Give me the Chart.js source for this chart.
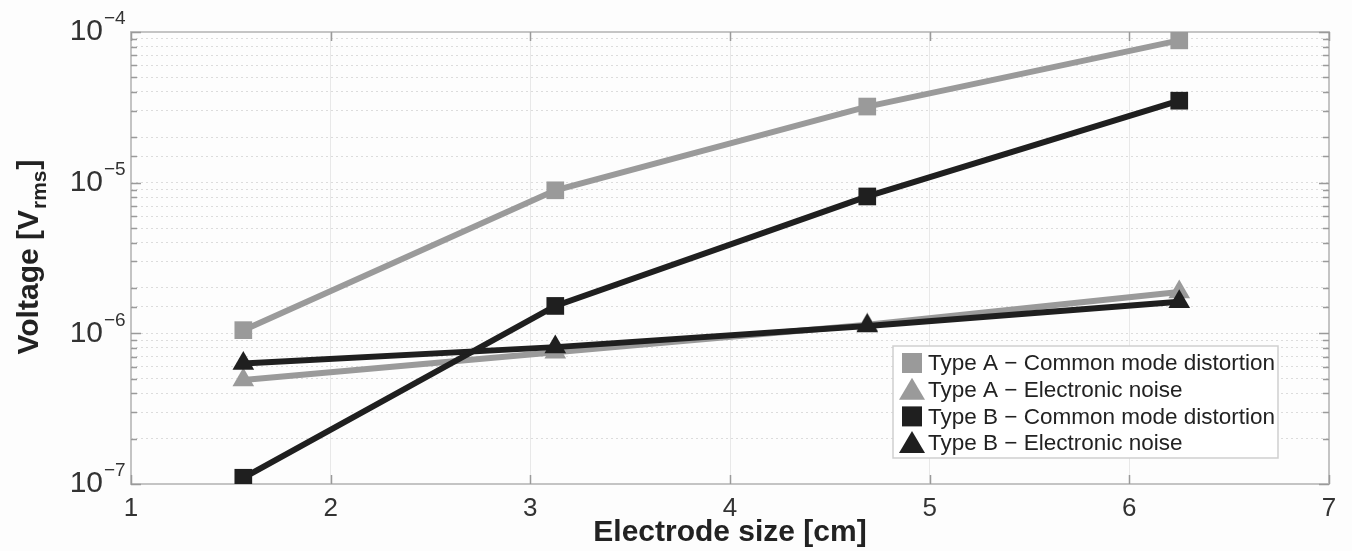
<!DOCTYPE html>
<html>
<head>
<meta charset="utf-8">
<script src="https://cdn.jsdelivr.net/npm/chart.js@4"></script>
<style>
  html, body { margin: 0; padding: 0; background: #fdfdfd; }
  #wrap { width: 1352px; height: 551px; }
</style>
</head>
<body>
<div id="wrap"><canvas id="grafico" width="1352" height="551"></canvas></div>
<script>
// electrode sizes [cm]
const sizes = [1.5625, 3.125, 4.6875, 6.25];

// voltages [V rms]
const typeACommon = [1.05e-6, 8.9e-6, 3.2e-5, 8.8e-5];
const typeANoise  = [4.9e-7, 7.5e-7, 1.14e-6, 1.88e-6];
const typeBCommon = [1.1e-7, 1.52e-6, 8.1e-6, 3.5e-5];
const typeBNoise  = [6.3e-7, 8.1e-7, 1.12e-6, 1.62e-6];

const seriesNames = [
  'Type A \u2212 Common mode distortion',
  'Type A \u2212 Electronic noise',
  'Type B \u2212 Common mode distortion',
  'Type B \u2212 Electronic noise'
];

const xTicks = [1, 2, 3, 4, 5, 6, 7];
const yExpoentes = [-7, -6, -5, -4];

const cinza = '#9a9a9a';
const preto = '#1f1f1f';
const fonte = '"Liberation Sans", Arial, sans-serif';

function pares(vals) {
  return sizes.map((x, i) => ({ x: x, y: vals[i] }));
}

function serie(label, vals, cor, forma, ordem) {
  return {
    label: label,
    data: pares(vals),
    borderColor: cor,
    backgroundColor: cor,
    borderWidth: 6,
    pointStyle: forma,
    pointRadius: forma === 'rect' ? 12.5 : 12.5,
    pointBorderWidth: 0,
    tension: 0,
    order: ordem
  };
}

// moldura, marcas de escala, rotulos 10^n, titulo y e legenda
const extras = {
  id: 'extras',
  beforeDatasetsDraw(chart) {
    const c = chart.ctx;
    const a = chart.chartArea;
    const ys = chart.scales.y, xs = chart.scales.x;
    c.save();
    c.strokeStyle = '#c4c4c4';
    c.lineWidth = 2;
    c.strokeRect(a.left, a.top, a.right - a.left, a.bottom - a.top);
    // marcas internas
    c.strokeStyle = '#9a9a9a';
    c.lineWidth = 1.5;
    ys.ticks.forEach(t => {
      const py = Math.round(ys.getPixelForValue(t.value)) + 0.5;
      const dec = Math.abs(Math.log10(t.value) - Math.round(Math.log10(t.value))) < 1e-9;
      const len = dec ? 10 : 6;
      c.beginPath();
      c.moveTo(a.left, py); c.lineTo(a.left + len, py);
      c.moveTo(a.right, py); c.lineTo(a.right - len, py);
      c.stroke();
    });
    xTicks.forEach(v => {
      const px = Math.round(xs.getPixelForValue(v)) + 0.5;
      c.beginPath();
      c.moveTo(px, a.bottom); c.lineTo(px, a.bottom - 9);
      c.moveTo(px, a.top); c.lineTo(px, a.top + 9);
      c.stroke();
    });
    c.restore();
  },
  afterDraw(chart) {
    const c = chart.ctx;
    const area = chart.chartArea;
    const ys = chart.scales.y;

    // rotulos do eixo y com expoente
    c.save();
    c.fillStyle = '#333';
    c.textBaseline = 'middle';
    yExpoentes.forEach(e => {
      const py = ys.getPixelForValue(Math.pow(10, e));
      c.font = '30px ' + fonte;
      c.textAlign = 'right';
      c.fillText('10', 103, py);
      c.font = '19px ' + fonte;
      c.textAlign = 'left';
      c.fillText('\u2212' + Math.abs(e), 104, py - 13);
    });
    c.restore();

    // titulo y
    c.save();
    c.translate(30, (area.top + area.bottom) / 2);
    c.rotate(-Math.PI / 2);
    c.fillStyle = '#222';
    c.textBaseline = 'middle';
    const big = 'bold 30px ' + fonte;
    const small = 'bold 21px ' + fonte;
    const p1 = 'Voltage [V', p2 = 'rms', p3 = ']';
    c.font = big;
    const w1 = c.measureText(p1).width, w3 = c.measureText(p3).width;
    c.font = small;
    const w2 = c.measureText(p2).width;
    const x0 = -(w1 + w2 + w3) / 2;
    c.textAlign = 'left';
    c.font = big;
    c.fillText(p1, x0, 0);
    c.font = small;
    c.fillText(p2, x0 + w1 + 1, 10);
    c.font = big;
    c.fillText(p3, x0 + w1 + w2 + 2, 0);
    c.restore();

    // legenda
    const lx = 893, ly = 346, lw = 385, lh = 112;
    c.save();
    c.fillStyle = '#ffffff';
    c.strokeStyle = '#cfcfcf';
    c.lineWidth = 1.5;
    c.fillRect(lx, ly, lw, lh);
    c.strokeRect(lx, ly, lw, lh);
    c.font = '22.5px ' + fonte;
    c.textBaseline = 'middle';
    c.textAlign = 'left';
    chart.data.datasets.forEach((ds, i) => {
      const cy = ly + 17 + i * 26.7;
      const cx = lx + 19;
      c.fillStyle = ds.borderColor;
      if (ds.pointStyle === 'rect') {
        c.fillRect(cx - 10, cy - 10, 20, 20);
      } else {
        c.beginPath();
        c.moveTo(cx, cy - 12);
        c.lineTo(cx + 13, cy + 10);
        c.lineTo(cx - 13, cy + 10);
        c.closePath();
        c.fill();
      }
      c.fillStyle = '#222';
      c.fillText(ds.label, lx + 35, cy + 1);
    });
    c.restore();
  }
};

const ctx = document.getElementById('grafico').getContext('2d');
const grafico = new Chart(ctx, {
  type: 'line',
  data: {
    datasets: [
      serie(seriesNames[0], typeACommon, cinza, 'rect', 3),
      serie(seriesNames[1], typeANoise, cinza, 'triangle', 2),
      serie(seriesNames[2], typeBCommon, preto, 'rect', 1),
      serie(seriesNames[3], typeBNoise, preto, 'triangle', 0)
    ]
  },
  plugins: [extras],
  options: {
    responsive: false,
    animation: false,
    layout: { padding: { top: 32, right: 23, left: 0, bottom: 0 } },
    plugins: {
      legend: { display: false },
      tooltip: { enabled: false }
    },
    scales: {
      x: {
        type: 'linear',
        min: 1,
        max: 7,
        afterBuildTicks: s => { s.ticks = xTicks.map(v => ({ value: v })); },
        afterFit: s => { s.height = 67; },
        border: { display: false },
        grid: { color: '#e8e8e8', lineWidth: 1, drawTicks: false },
        ticks: {
          color: '#333',
          font: { size: 26, family: fonte },
          padding: 9,
          callback: v => String(v)
        },
        title: {
          display: true,
          text: 'Electrode size [cm]',
          color: '#222',
          font: { size: 30, weight: 'bold', family: fonte },
          padding: { top: -12, bottom: 0 }
        }
      },
      y: {
        type: 'logarithmic',
        min: 1e-7,
        max: 1e-4,
        afterFit: s => { s.width = 131; },
        border: { display: false, dash: [2, 3] },
        grid: {
          color: '#dcdcdc',
          lineWidth: 1,
          drawTicks: false
        },
        ticks: {
          autoSkip: false,
          padding: 8,
          callback: () => ''
        }
      }
    }
  }
});
</script>
</body>
</html>
